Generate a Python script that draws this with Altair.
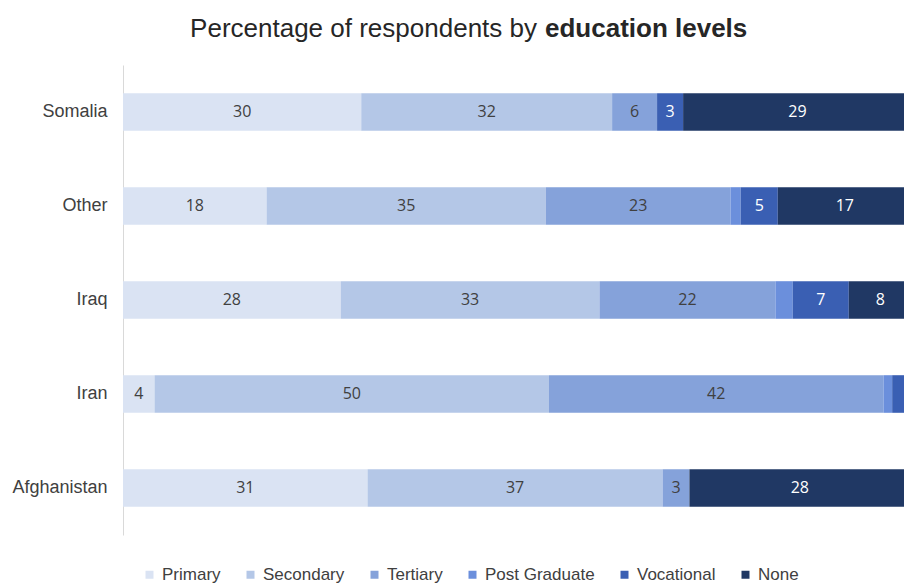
import altair as alt
import pandas as pd

countries = ["Somalia", "Other", "Iraq", "Iran", "Afghanistan"]
levels = ["Primary", "Secondary", "Tertiary", "Post Graduate", "Vocational", "None"]
colors = ["#dae3f3", "#b4c7e7", "#85a2da", "#6b8fdc", "#3a5fb3", "#203864"]
label_colors = ["#404040", "#404040", "#404040", "#404040", "#ffffff", "#ffffff"]

primary = [30.2, 18.2, 27.6, 4, 31]
secondary = [31.8, 35.4, 32.8, 50, 37.4]
tertiary = [5.7, 23.4, 22.3, 42.4, 3.4]
post_graduate = [0, 1.3, 2.2, 1.1, 0]
vocational = [3.3, 4.7, 7.1, 2, 0]
none = [29, 17, 8, 0, 28]

title_plain = "Percentage of respondents by"
title_bold = "education levels"

series = [primary, secondary, tertiary, post_graduate, vocational, none]
rows = []
for li, (lvl, vals) in enumerate(zip(levels, series)):
    for c, v in zip(countries, vals):
        rows.append({"country": c, "level": lvl, "ord": li, "value": v,
                     "lcolor": label_colors[li]})
df = pd.DataFrame(rows)

FONT = "Liberation Sans"

base = alt.Chart(df).transform_stack(
    stack="value", groupby=["country"], as_=["x0", "x1"],
    sort=[alt.SortField("ord", order="ascending")]
).transform_calculate(mid="(datum.x0 + datum.x1) / 2")

xscale = alt.Scale(domain=[0, 99], nice=False, zero=True)
yenc = alt.Y("country:N", sort=countries, title=None,
             scale=alt.Scale(paddingInner=0.6, paddingOuter=0.3),
             axis=alt.Axis(domainColor="#d9d9d9", domainWidth=1, ticks=False,
                           labelFont=FONT, labelFontSize=18, labelColor="#404040",
                           labelPadding=16, grid=False))

bars = base.mark_bar(clip=True).encode(
    x=alt.X("x0:Q", scale=xscale, axis=None),
    x2="x1:Q",
    y=yenc,
    color=alt.Color("level:N", scale=alt.Scale(domain=levels, range=colors),
                    legend=alt.Legend(title=None, orient="none", direction="horizontal",
                                      legendX=18, legendY=501,
                                      symbolType="square", symbolSize=64,
                                      symbolStrokeWidth=0,
                                      labelFont=FONT, labelFontSize=17,
                                      labelColor="#404040", labelOffset=4,
                                      columnPadding=21)),
    order=alt.Order("ord:Q"),
)

labels = base.transform_filter("datum.value >= 2.5").mark_text(
    font="Open Sans", fontSize=16, baseline="middle", align="center", clip=True
).encode(
    x=alt.X("mid:Q", scale=xscale, axis=None),
    y=alt.Y("country:N", sort=countries),
    text=alt.Text("value:Q", format=".0f"),
    color=alt.Color("lcolor:N", scale=None, legend=None),
)

tdf = pd.DataFrame({"plain": [title_plain], "bold": [title_bold]})
t1 = alt.Chart(tdf).mark_text(font=FONT, fontSize=26, align="right",
                              baseline="alphabetic", color="#262626").encode(
    x=alt.value(414), y=alt.value(-28), text="plain:N")
t2 = alt.Chart(tdf).mark_text(font=FONT, fontSize=26, fontWeight="bold", align="left",
                              baseline="alphabetic", color="#262626").encode(
    x=alt.value(422), y=alt.value(-28), text="bold:N")

chart = alt.layer(bars, labels, t1, t2).properties(
    width=781, height=470,
    padding={"left": 123, "top": 65, "right": 0, "bottom": 48},
    autosize=alt.AutoSizeParams(type="none"),
    background="white",
).configure_view(stroke=None)

chart.save("out.html", embed_options={"renderer": "svg", "actions": False})
